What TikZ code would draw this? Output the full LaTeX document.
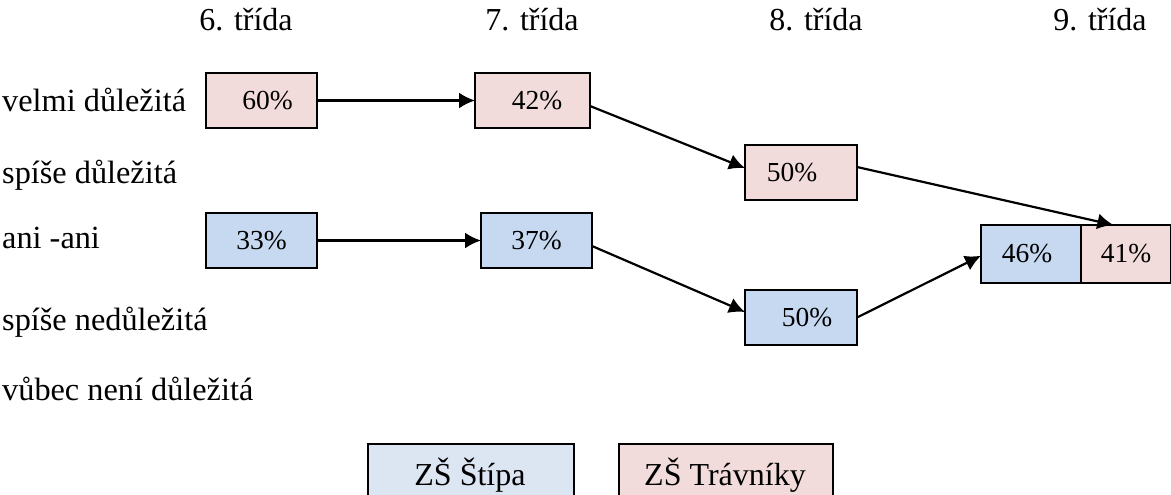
\documentclass[tikz,border=0pt]{standalone}
\usepackage{fontspec}
\setmainfont{Liberation Serif}
\usetikzlibrary{arrows.meta,calc}
\definecolor{pinkfill}{HTML}{F2DCDB}
\definecolor{bluefill}{HTML}{C6D9F1}
\definecolor{legblue}{HTML}{DCE6F2}
\tikzset{
  lbl/.style={anchor=base west,inner sep=0pt,font=\fontsize{32.3}{38}\selectfont},
  hdr/.style={anchor=base,inner sep=0pt,font=\fontsize{32}{38}\selectfont},
  valbox/.style={draw=black,line width=2pt,inner sep=0pt,outer sep=0pt,minimum height=55pt,font=\fontsize{27.5}{33}\selectfont},
  pbox/.style={valbox,fill=pinkfill},
  bbox/.style={valbox,fill=bluefill},
  conn/.style={line width=2.2pt,-{Latex[length=16pt,width=16pt]}}
}
\begin{document}
\begin{tikzpicture}[x=1pt,y=-1pt]
\useasboundingbox (0,0) rectangle (1171,495);
% headers
\node[hdr] (h6) at (246,31) {6. třída};
\node[hdr] (h7) at (532,31) {7. třída};
\node[hdr] (h8) at (816,31) {8. třída};
\node[hdr] (h9) at (1100,31) {9. třída};
% row labels
\node[lbl] (r1) at (2,112) {velmi důležitá};
\node[lbl] (r2) at (2,183) {spíše důležitá};
\node[lbl] (r3) at (2,248) {ani -ani};
\node[lbl] (r4) at (2,330) {spíše nedůležitá};
\node[lbl] (r5) at (2,400) {vůbec není důležitá};
% value boxes
\node[pbox,minimum width=111pt] (p60) at (261.5,100.5) {\hspace{12pt}60\%};
\node[pbox,minimum width=115pt] (p42) at (532.5,100.5) {\hspace{9pt}42\%};
\node[pbox,minimum width=112pt] (p50) at (801,172.5) {\hspace{-18pt}50\%};
\node[bbox,minimum width=111pt] (b33) at (261.5,240.5) {33\%};
\node[bbox,minimum width=111pt] (b37) at (536.5,240.5) {37\%};
\node[bbox,minimum width=112pt] (b50) at (801,317.5) {\hspace{12pt}50\%};
\node[bbox,minimum width=100pt,minimum height=58pt] (b46) at (1031,254) {\hspace{-8pt}46\%};
\node[pbox,minimum width=90pt,minimum height=58pt] (p41) at (1126,254) {41\%};
% connectors
\draw[conn] (p60.east) -- (p42.west);
\draw[conn] (b33.east) -- (b37.west);
\draw[conn] ($(p42.north east)!0.6!(p42.south east)$) -- ($(p50.north west)!0.42!(p50.south west)$);
\draw[conn] ($(b37.north east)!0.6!(b37.south east)$) -- ($(b50.north west)!0.4!(b50.south west)$);
\draw[conn] ($(p50.north east)!0.4!(p50.south east)$) -- ($(p41.north west)!0.36!(p41.north east)$);
\draw[conn] (b50.east) -- ($(b46.north west)!0.53!(b46.south west)$);
% legend
\node[draw=black,line width=2pt,fill=legblue,minimum width=206pt,minimum height=60pt,inner sep=0pt,anchor=north west] (lg1) at (367,443) {};
\node[anchor=base,inner sep=0pt,font=\fontsize{32}{38}\selectfont] (lt1) at (470,485) {ZŠ Štípa};
\node[draw=black,line width=2pt,fill=pinkfill,minimum width=214pt,minimum height=60pt,inner sep=0pt,anchor=north west] (lg2) at (618,443) {};
\node[anchor=base,inner sep=0pt,font=\fontsize{32}{38}\selectfont] (lt2) at (725,485) {ZŠ Trávníky};
\end{tikzpicture}
\end{document}
